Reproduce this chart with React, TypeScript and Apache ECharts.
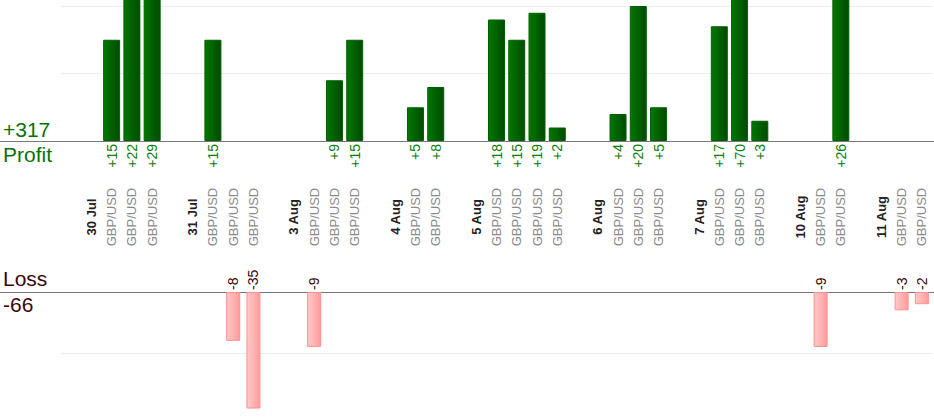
import React, { useEffect, useRef } from "react";
import * as echarts from "echarts";

// ---- data ----
const dates = ["30 Jul", "31 Jul", "3 Aug", "4 Aug", "5 Aug", "6 Aug", "7 Aug", "10 Aug", "11 Aug"];
const pair = "GBP/USD";
const tradesPerDay = [3, 3, 3, 2, 4, 3, 3, 2, 2];
const tradeProfit: (number | null)[] = [
  15, 22, 29,
  15, null, null,
  null, 9, 15,
  5, 8,
  18, 15, 19, 2,
  4, 20, 5,
  17, 70, 3,
  null, 26,
  null, null,
];
const tradeLoss: (number | null)[] = [
  null, null, null,
  null, -8, -35,
  -9, null, null,
  null, null,
  null, null, null, null,
  null, null, null,
  null, null, null,
  -9, null,
  -3, -2,
];
const profitAxis = { min: 0, max: 20, interval: 10 };
const lossAxisMin = -19; // visible depth of the loss panel
const lossGridAxis = { min: -20, max: 0, interval: 10 };

// ---- layout ----
const W = 934;
const H = 420;
const LEFT = 61;
const RIGHT = 2;
const P_TOP = 6;
const P_H = 135;
const L_TOP = 292;
const L_UNIT = 6.1; // px per unit in the loss panel
const FONT = "'Liberation Sans', Arial, Helvetica, sans-serif";

function build() {
  const categories: string[] = [""];
  const profitData: (number | string)[] = ["-"];
  const lossData: (number | string)[] = ["-"];
  let t = 0;
  dates.forEach((d, i) => {
    if (i > 0) {
      categories.push("");
      profitData.push("-");
      lossData.push("-");
    }
    categories.push(d);
    profitData.push("-");
    lossData.push("-");
    for (let k = 0; k < tradesPerDay[i]; k++) {
      categories.push(pair);
      profitData.push(tradeProfit[t] ?? "-");
      lossData.push(tradeLoss[t] ?? "-");
      t++;
    }
  });
  return { categories, profitData, lossData };
}

export default function App() {
  const ref = useRef<HTMLDivElement>(null);
  useEffect(() => {
    if (!ref.current) return;
    const chart = echarts.init(ref.current, undefined, { renderer: "svg" });
    const { categories, profitData, lossData } = build();
    const totalProfit = tradeProfit.reduce((s: number, v) => s + (v ?? 0), 0);
    const totalLoss = tradeLoss.reduce((s: number, v) => s + (v ?? 0), 0);
    const pBase = P_TOP + P_H;
    const lBase = L_TOP;
    const lossH = Math.round(-lossAxisMin * L_UNIT);
    const lossGridH = Math.round(-lossGridAxis.min * L_UNIT);

    const hiddenValueAxis = {
      type: "value",
      axisLine: { show: false },
      axisTick: { show: false },
      axisLabel: { show: false },
    };

    const option: any = {
      animation: false,
      backgroundColor: "#ffffff",
      textStyle: { fontFamily: FONT },
      grid: [
        { left: LEFT, right: RIGHT, top: P_TOP, height: P_H },
        { left: LEFT, right: RIGHT, top: L_TOP, height: lossH },
        { left: LEFT, right: RIGHT, top: L_TOP, height: lossGridH },
      ],
      xAxis: [
        {
          type: "category",
          gridIndex: 0,
          data: categories,
          position: "bottom",
          axisLine: { lineStyle: { color: "#777777", width: 1 } },
          axisTick: { show: false },
          axisLabel: {
            interval: 0,
            rotate: 90,
            margin: 76,
            align: "center",
            verticalAlign: "middle",
            fontFamily: FONT,
            formatter: (v: string) =>
              v === "" ? "" : dates.includes(v) ? `{d|${v}}` : `{p|${v}}`,
            rich: {
              d: { fontWeight: "bold", color: "#222222", fontSize: 13, fontFamily: FONT },
              p: { color: "#8a8a8a", fontSize: 13, fontFamily: FONT },
            },
          },
        },
        {
          type: "category",
          gridIndex: 1,
          data: categories,
          position: "top",
          axisLine: { onZero: false, lineStyle: { color: "#777777", width: 1 } },
          axisTick: { show: false },
          axisLabel: { show: false },
        },
        {
          type: "category",
          gridIndex: 2,
          data: categories,
          show: false,
        },
      ],
      yAxis: [
        {
          ...hiddenValueAxis,
          gridIndex: 0,
          ...profitAxis,
          splitLine: { lineStyle: { color: "#ececec" } },
        },
        {
          ...hiddenValueAxis,
          gridIndex: 1,
          min: lossAxisMin,
          max: 0,
          splitLine: { show: false },
        },
        {
          ...hiddenValueAxis,
          gridIndex: 2,
          ...lossGridAxis,
          splitLine: { show: true, showMinLine: false, lineStyle: { color: "#ececec" } },
        },
      ],
      graphic: [
        {
          type: "line",
          z: -1,
          shape: { x1: 0, y1: pBase + 0.5, x2: W, y2: pBase + 0.5 },
          style: { stroke: "#777777", lineWidth: 1 },
        },
        {
          type: "line",
          z: -1,
          shape: { x1: 0, y1: lBase + 0.5, x2: W, y2: lBase + 0.5 },
          style: { stroke: "#777777", lineWidth: 1 },
        },
        {
          type: "text",
          x: 3,
          y: pBase - 1,
          style: {
            text: "+" + totalProfit,
            fill: "#0a720a",
            fontSize: 21,
            fontFamily: FONT,
            verticalAlign: "bottom",
          },
        },
        {
          type: "text",
          x: 3,
          y: pBase + 3,
          style: {
            text: "Profit",
            fill: "#0a720a",
            fontSize: 21,
            fontFamily: FONT,
            verticalAlign: "top",
          },
        },
        {
          type: "text",
          x: 3,
          y: lBase - 3,
          style: {
            text: "Loss",
            fill: "#3a0606",
            fontSize: 21,
            fontFamily: FONT,
            verticalAlign: "bottom",
          },
        },
        {
          type: "text",
          x: 3,
          y: lBase + 2,
          style: {
            text: String(totalLoss),
            fill: "#3a0606",
            fontSize: 21,
            fontFamily: FONT,
            verticalAlign: "top",
          },
        },
      ],
      series: [
        {
          type: "bar",
          name: "Profit",
          xAxisIndex: 0,
          yAxisIndex: 0,
          data: profitData,
          barWidth: 17,
          clip: false,
          itemStyle: {
            color: new echarts.graphic.LinearGradient(0, 0, 1, 0, [
              { offset: 0, color: "#007800" },
              { offset: 1, color: "#004a00" },
            ]),
            borderColor: "#006000",
            borderWidth: 1,
          },
          label: {
            show: true,
            position: "bottom",
            distance: 3,
            rotate: 90,
            align: "right",
            verticalAlign: "middle",
            color: "#0a800a",
            fontSize: 14,
            fontFamily: FONT,
            formatter: (p: any) => "+" + p.value,
          },
        },
        {
          type: "bar",
          name: "Loss",
          xAxisIndex: 1,
          yAxisIndex: 1,
          data: lossData,
          barWidth: 14,
          clip: true,
          itemStyle: {
            color: new echarts.graphic.LinearGradient(0, 0, 1, 0, [
              { offset: 0, color: "#ffcaca" },
              { offset: 1, color: "#ff9c9c" },
            ]),
            borderColor: "#ff9090",
            borderWidth: 1,
          },
          label: {
            show: true,
            position: "top",
            distance: 2,
            rotate: 90,
            align: "left",
            verticalAlign: "middle",
            color: "#3a0606",
            fontSize: 14,
            fontFamily: FONT,
            formatter: (p: any) => String(p.value),
          },
        },
      ],
    };
    chart.setOption(option);
    return () => chart.dispose();
  }, []);
  return (
    <div
      ref={ref}
      style={{ position: "absolute", left: 0, top: 0, width: W, height: H, background: "#fff" }}
    />
  );
}
